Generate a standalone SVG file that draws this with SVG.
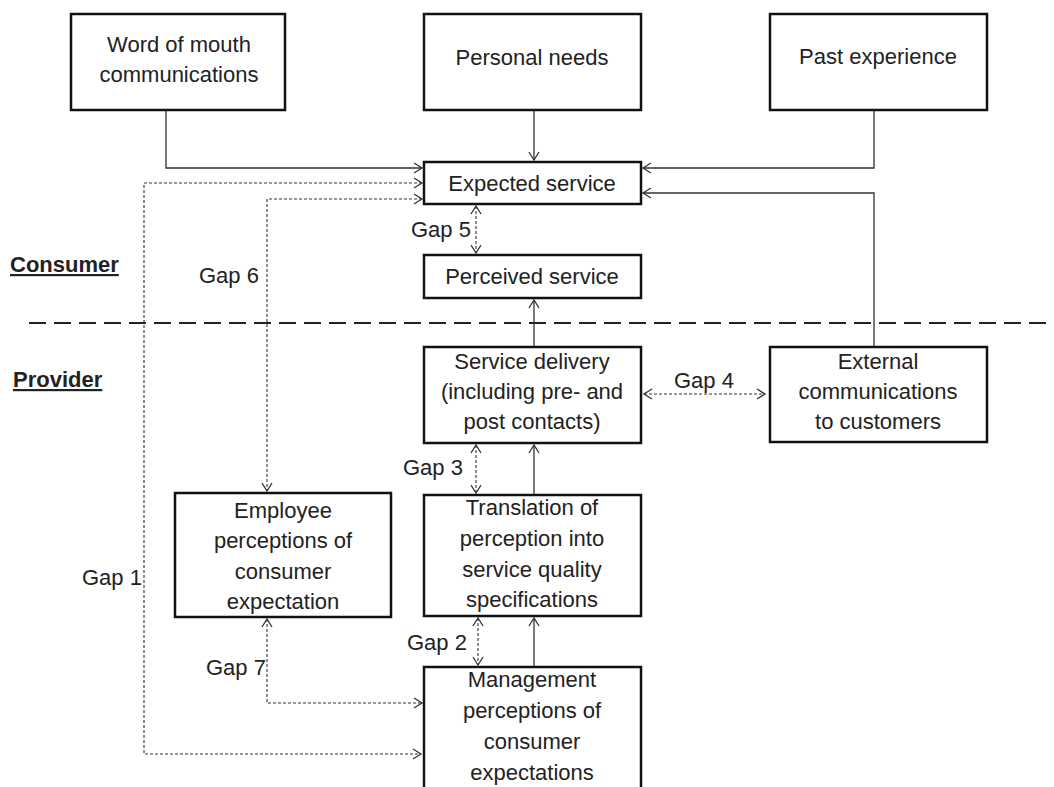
<svg xmlns="http://www.w3.org/2000/svg" width="1054" height="787" viewBox="0 0 1054 787">
<defs>
<marker id="arr" markerUnits="userSpaceOnUse" markerWidth="12" markerHeight="12" viewBox="-10 -6 12 12" refX="0" refY="0" orient="auto-start-reverse">
<path d="M -8 -5 L 0 0 L -8 5" fill="none" stroke="#333" stroke-width="1.3"/>
</marker>
</defs>
<style>
.box{fill:#fff;stroke:#111;stroke-width:2.5}
.t{font-family:"Liberation Sans",Arial,sans-serif;font-size:22px;fill:#222;text-anchor:middle}
.g{font-family:"Liberation Sans",Arial,sans-serif;font-size:22px;fill:#222}
.h{font-family:"Liberation Sans",Arial,sans-serif;font-size:22px;font-weight:bold;fill:#222;text-decoration:underline}
.s{fill:none;stroke:#333;stroke-width:1.3}
.d{fill:none;stroke:#333;stroke-width:1.1;stroke-dasharray:3 2}
</style>
<rect width="1054" height="787" fill="#fff"/>
<g id="divider">
<line x1="29" y1="323" x2="1054" y2="323" stroke="#222" stroke-width="2" stroke-dasharray="17 8"/>
<text class="h" x="10" y="272">Consumer</text>
<text class="h" x="13" y="387">Provider</text>
</g>
<g id="connectors">
<path class="s" d="M166 110 V168 H422" marker-end="url(#arr)"/>
<path class="s" d="M534 110 V160" marker-end="url(#arr)"/>
<path class="s" d="M874 110 V168 H643" marker-end="url(#arr)"/>
<path class="s" d="M874 347 V193 H643" marker-end="url(#arr)"/>
<path class="s" d="M534 347 V300" marker-end="url(#arr)"/>
<path class="s" d="M534 495 V445" marker-end="url(#arr)"/>
<path class="s" d="M534 667 V618" marker-end="url(#arr)"/>
<path class="d" d="M422 183 H144 V754 H421" marker-start="url(#arr)" marker-end="url(#arr)"/>
<path class="d" d="M422 199 H267 V491" marker-start="url(#arr)" marker-end="url(#arr)"/>
<path class="d" d="M267 619 V703 H422" marker-start="url(#arr)" marker-end="url(#arr)"/>
<path class="d" d="M476 206 V253" marker-start="url(#arr)" marker-end="url(#arr)"/>
<path class="d" d="M476 445 V493" marker-start="url(#arr)" marker-end="url(#arr)"/>
<path class="d" d="M478 618 V665" marker-start="url(#arr)" marker-end="url(#arr)"/>
<path class="d" d="M644 394 H765" marker-start="url(#arr)" marker-end="url(#arr)"/>
<text class="g" x="411" y="237">Gap 5</text>
<text class="g" x="199" y="283">Gap 6</text>
<text class="g" x="674" y="388">Gap 4</text>
<text class="g" x="403" y="475">Gap 3</text>
<text class="g" x="82" y="585">Gap 1</text>
<text class="g" x="407" y="650">Gap 2</text>
<text class="g" x="206" y="675">Gap 7</text>
</g>
<g id="word-of-mouth">
<rect class="box" x="71" y="14" width="214" height="96"/>
<text class="t" x="179" y="52">Word of mouth</text>
<text class="t" x="179" y="82">communications</text>
</g>
<g id="personal-needs">
<rect class="box" x="424" y="14" width="217" height="96"/>
<text class="t" x="532" y="65">Personal needs</text>
</g>
<g id="past-experience">
<rect class="box" x="770" y="14" width="217" height="96"/>
<text class="t" x="878" y="64">Past experience</text>
</g>
<g id="expected-service">
<rect class="box" x="424" y="162" width="217" height="42"/>
<text class="t" x="532" y="191">Expected service</text>
</g>
<g id="perceived-service">
<rect class="box" x="424" y="255" width="217" height="43"/>
<text class="t" x="532" y="284">Perceived service</text>
</g>
<g id="service-delivery">
<rect class="box" x="424" y="347" width="217" height="96"/>
<text class="t" x="532" y="369">Service delivery</text>
<text class="t" x="532" y="399">(including pre- and</text>
<text class="t" x="532" y="429">post contacts)</text>
</g>
<g id="external-communications">
<rect class="box" x="770" y="347" width="217" height="95"/>
<text class="t" x="878" y="369">External</text>
<text class="t" x="878" y="399">communications</text>
<text class="t" x="878" y="429">to customers</text>
</g>
<g id="employee-perceptions">
<rect class="box" x="175" y="493" width="216" height="124"/>
<text class="t" x="283" y="518">Employee</text>
<text class="t" x="283" y="548">perceptions of</text>
<text class="t" x="283" y="579">consumer</text>
<text class="t" x="283" y="609">expectation</text>
</g>
<g id="translation">
<rect class="box" x="424" y="495" width="217" height="121"/>
<text class="t" x="532" y="515">Translation of</text>
<text class="t" x="532" y="546">perception into</text>
<text class="t" x="532" y="577">service quality</text>
<text class="t" x="532" y="607">specifications</text>
</g>
<g id="management-perceptions">
<rect class="box" x="424" y="667" width="217" height="140"/>
<text class="t" x="532" y="687">Management</text>
<text class="t" x="532" y="718">perceptions of</text>
<text class="t" x="532" y="749">consumer</text>
<text class="t" x="532" y="780">expectations</text>
</g>
</svg>
